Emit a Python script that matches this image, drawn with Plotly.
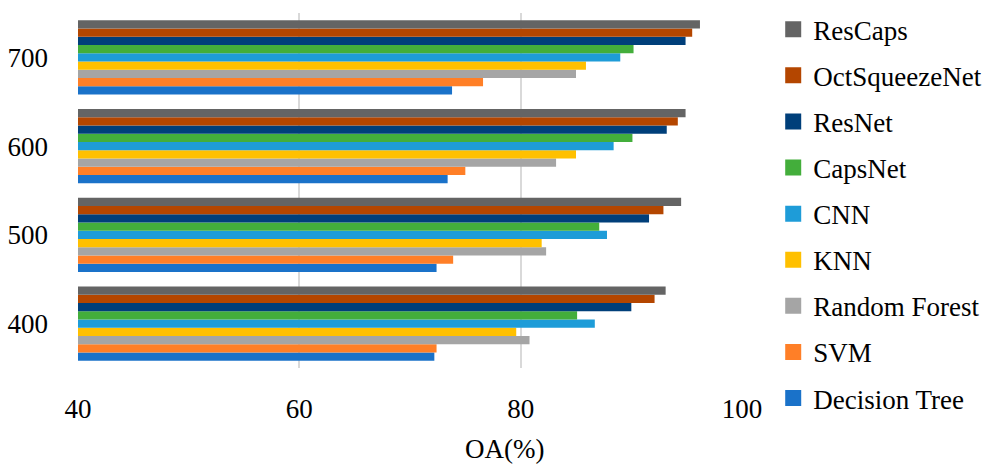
import plotly.graph_objects as go

# Training-set sizes (category axis) and overall accuracy per model
sizes = ["400", "500", "600", "700"]

decision_tree = [72.2, 72.4, 73.4, 73.8]
svm = [72.4, 73.9, 75.0, 76.6]
random_forest = [80.8, 82.3, 83.2, 85.0]
knn = [79.6, 81.9, 85.0, 85.9]
cnn = [86.7, 87.8, 88.4, 89.0]
capsnet = [85.1, 87.1, 90.1, 90.2]
resnet = [90.0, 91.6, 93.2, 94.9]
octsqueezenet = [92.1, 92.9, 94.2, 95.5]
rescaps = [93.1, 94.5, 94.9, 96.2]

x_ticks = [40, 60, 80, 100]

series = [
    ("Decision Tree", decision_tree, "#1A72C9"),
    ("SVM", svm, "#FF7F27"),
    ("Random Forest", random_forest, "#A5A5A5"),
    ("KNN", knn, "#FFC000"),
    ("CNN", cnn, "#1E9CD8"),
    ("CapsNet", capsnet, "#43AE3B"),
    ("ResNet", resnet, "#003F7A"),
    ("OctSqueezeNet", octsqueezenet, "#B44600"),
    ("ResCaps", rescaps, "#646464"),
]

FONT = "Liberation Serif"

fig = go.Figure()
for name, vals, color in series:
    fig.add_trace(go.Bar(
        y=sizes, x=vals, name=name, orientation="h",
        marker=dict(color=color, line=dict(width=0)),
        showlegend=False,
    ))

# Legend entries (top to bottom: ResCaps ... Decision Tree) with larger swatches
for name, vals, color in reversed(series):
    fig.add_trace(go.Scatter(
        x=[None], y=[None], mode="markers", name=name,
        legendgroup=name,
        marker=dict(symbol="square", size=16, color=color),
        showlegend=True,
    ))

fig.update_layout(
    width=995, height=466,
    margin=dict(l=78, r=253, t=13, b=98, autoexpand=False),
    paper_bgcolor="white", plot_bgcolor="white",
    barmode="group", bargap=0.166, bargroupgap=0,
    font=dict(family=FONT, size=27, color="#000000"),
    legend=dict(
        x=1.047, xanchor="left", y=1.022, yanchor="top",
        traceorder="grouped", tracegroupgap=8,
        maxheight=466,
        font=dict(family=FONT, size=27, color="#000000"),
        itemclick=False, itemdoubleclick=False,
    ),
    xaxis=dict(
        range=[40, 100], tickvals=x_ticks, ticktext=[str(v) for v in x_ticks],
        showgrid=True, gridcolor="#D9D9D9", gridwidth=2,
        zeroline=False, showline=False, ticks="",
        ticklabelstandoff=22,
        tickfont=dict(family=FONT, size=27, color="#000000"),
    ),
    yaxis=dict(
        type="category", categoryorder="array", categoryarray=sizes,
        showgrid=False, zeroline=False, showline=False, ticks="",
        ticklabelstandoff=29,
        tickfont=dict(family=FONT, size=27, color="#000000"),
    ),
    annotations=[dict(
        text="OA(%)", xref="paper", yref="paper",
        x=0.6416, y=-0.228, xanchor="center", yanchor="middle",
        showarrow=False, font=dict(family=FONT, size=27, color="#000000"),
    )],
)

fig.write_html("out.html")
